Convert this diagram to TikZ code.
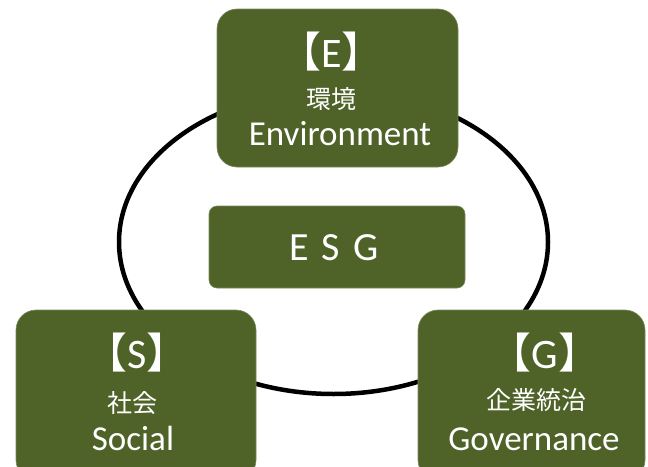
\documentclass[tikz,border=0pt]{standalone}
\usepackage{fontspec}
\setmainfont{Carlito}
\newfontfamily\cjk{Noto Sans CJK JP}
\definecolor{olivebox}{HTML}{4F6228}
\definecolor{oliveedge}{HTML}{7A8C5A}
\begin{document}
\begin{tikzpicture}[x=1pt,y=-1pt,
  box/.style={draw=oliveedge,line width=0.6pt,fill=olivebox,rounded corners=20pt,inner sep=0pt},
  txt/.style={text=white,inner sep=0pt,anchor=base},
  big/.style={txt,font=\fontsize{42}{42}\selectfont},
  mid/.style={txt,font=\cjk\fontsize{25}{25}\selectfont},
  word/.style={txt,font=\fontsize{35}{35}\selectfont}]
\useasboundingbox (0,0) rectangle (648,466);
\clip (0,0) rectangle (648,466);
\draw[line width=4.5pt] (333.5,242) ellipse [x radius=214.5, y radius=152];
% boxes
\node[box,minimum width=241pt,minimum height=158pt] (E) at (337.5,88) {};
\node[box,rounded corners=8pt,minimum width=256pt,minimum height=82pt] (ESG) at (337,247) {};
\node[box,minimum width=240pt,minimum height=170pt] (S) at (136,395) {};
\node[box,minimum width=227pt,minimum height=170pt] (G) at (531.5,395) {};
% E texts
\node[big] (Et1) at (331.5,67) {{\cjk 【}E{\cjk 】}};
\node[mid] (Et2) at (331.5,108) {環境};
\node[word] (Et3) at (340,145) {Environment};
% ESG
\node[big,font=\fontsize{40}{40}\selectfont] (ESGt) at (334,260) {E\hspace{4pt} S\hspace{4pt} G};
% S texts
\node[big] (St1) at (137,368) {{\cjk 【}S{\cjk 】}};
\node[mid] (St2) at (132,412) {社会};
\node[word] (St3) at (133,450) {Social};
% G texts
\node[big] (Gt1) at (545,368) {{\cjk 【}G{\cjk 】}};
\node[mid] (Gt2) at (536,409) {企業統治};
\node[word] (Gt3) at (534,450) {Governance};
\end{tikzpicture}
\end{document}
